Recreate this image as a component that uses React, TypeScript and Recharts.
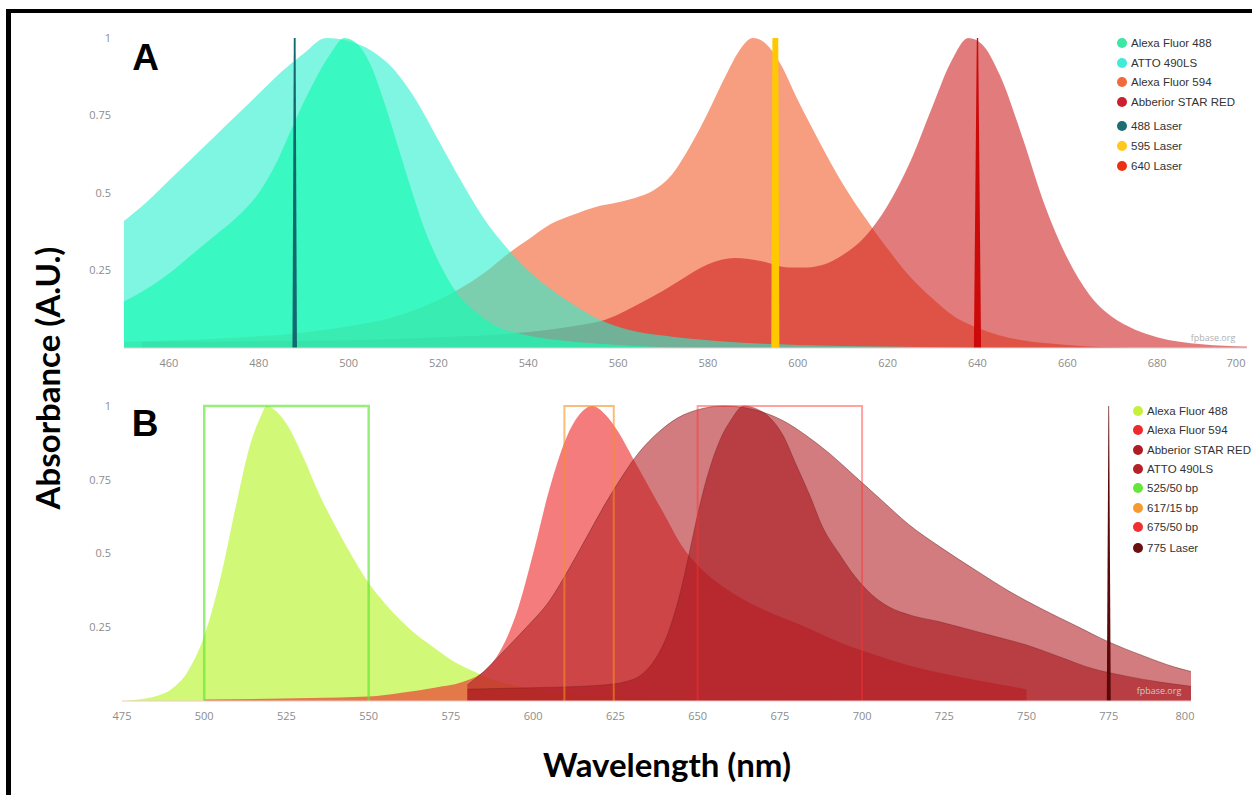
import React from "react";
import { ComposedChart, Area, Line, XAxis, YAxis } from "recharts";

// ---------------- Panel A : absorbance ----------------
const aTicks = [460, 480, 500, 520, 540, 560, 580, 600, 620, 640, 660, 680, 700];
const yTicks = [0.25, 0.5, 0.75, 1];

const aAttoNm = [450, 455, 460, 465, 470, 475, 480, 485, 490, 495, 500, 505, 510, 515, 520, 525, 530, 536, 540, 545, 550, 556, 562, 570, 580, 590, 600, 620, 640];
const aAttoVal = [0.41, 0.47, 0.54, 0.61, 0.68, 0.75, 0.82, 0.89, 0.95, 1.0, 0.99, 0.96, 0.9, 0.8, 0.67, 0.54, 0.42, 0.31, 0.25, 0.19, 0.14, 0.09, 0.06, 0.04, 0.025, 0.015, 0.01, 0.005, 0];

const aA488Nm = [450, 455, 460, 465, 470, 475, 480, 484, 488, 492, 496, 499, 502, 505, 508, 511, 514, 517, 520, 524, 528, 533, 540, 550, 560, 575];
const aA488Val = [0.15, 0.19, 0.24, 0.3, 0.36, 0.42, 0.5, 0.6, 0.73, 0.85, 0.95, 1.0, 0.98, 0.91, 0.79, 0.65, 0.51, 0.38, 0.28, 0.18, 0.12, 0.07, 0.04, 0.02, 0.01, 0];

const aA594Nm = [450, 470, 490, 500, 510, 520, 530, 536, 540, 545, 550, 555, 560, 565, 568, 572, 576, 580, 584, 587, 590, 593, 596, 600, 605, 610, 615, 620, 625, 630, 635, 640, 645, 650, 660, 675];
const aA594Val = [0.02, 0.03, 0.05, 0.07, 0.1, 0.155, 0.24, 0.31, 0.35, 0.4, 0.43, 0.455, 0.47, 0.49, 0.51, 0.56, 0.65, 0.76, 0.88, 0.96, 1.0, 0.98, 0.92, 0.8, 0.66, 0.53, 0.42, 0.32, 0.23, 0.16, 0.1, 0.065, 0.04, 0.025, 0.01, 0];

const aAbbNm = [454, 480, 500, 520, 535, 545, 552, 557, 561, 565, 570, 574, 580, 586, 592, 598, 602, 606, 610, 615, 620, 625, 630, 634, 638, 641, 645, 650, 655, 660, 665, 670, 675, 680, 690, 700];
const aAbbVal = [0.02, 0.022, 0.025, 0.035, 0.045, 0.06, 0.075, 0.09, 0.115, 0.145, 0.185, 0.22, 0.27, 0.29, 0.28, 0.26, 0.26, 0.27, 0.3, 0.36, 0.46, 0.6, 0.78, 0.92, 1.0, 0.98, 0.88, 0.68, 0.46, 0.29, 0.17, 0.1, 0.06, 0.035, 0.012, 0.005];

const aL488Nm = [487.5, 487.8, 488.2, 488.5];
const aL595Nm = [594.1, 594.35, 595.65, 595.9];
const aL640Nm = [639.2, 639.85, 640.15, 640.8];
const laserVal = [0, 1, 1, 0];

// ---------------- Panel B : emission ----------------
const bTicks = [475, 500, 525, 550, 575, 600, 625, 650, 675, 700, 725, 750, 775, 800];

const bA488Nm = [475, 480, 485, 490, 495, 500, 505, 510, 514, 517, 519, 521, 525, 530, 535, 540, 545, 550, 555, 560, 565, 570, 575, 580, 585, 590, 600, 610, 625, 650, 675, 700];
const bA488Val = [0.0, 0.005, 0.015, 0.04, 0.1, 0.22, 0.42, 0.68, 0.87, 0.96, 1.0, 0.99, 0.94, 0.83, 0.7, 0.59, 0.49, 0.4, 0.33, 0.27, 0.22, 0.18, 0.14, 0.11, 0.085, 0.065, 0.04, 0.025, 0.015, 0.007, 0.003, 0];

const bA594Nm = [500, 550, 560, 570, 580, 585, 590, 595, 600, 605, 610, 614, 618, 622, 626, 630, 635, 640, 645, 650, 655, 663, 670, 683, 693, 703, 713, 724, 735, 745, 750];
const bA594Val = [0.005, 0.015, 0.028, 0.045, 0.07, 0.1, 0.17, 0.3, 0.5, 0.72, 0.89, 0.97, 1.0, 0.97, 0.91, 0.83, 0.73, 0.63, 0.53, 0.46, 0.41, 0.35, 0.31, 0.25, 0.2, 0.16, 0.125, 0.095, 0.07, 0.05, 0.04];

const bAttoNm = [580, 585, 592, 598, 605, 611, 617, 622, 627, 632, 638, 644, 651, 658, 668, 676, 683, 690, 698, 706, 714, 724, 735, 745, 755, 765, 775, 785, 795, 800];
const bAttoVal = [0.054, 0.1, 0.18, 0.25, 0.34, 0.45, 0.57, 0.67, 0.76, 0.84, 0.91, 0.96, 0.99, 1.0, 0.985, 0.95, 0.9, 0.84, 0.76, 0.68, 0.6, 0.52, 0.44, 0.37, 0.31, 0.255, 0.2, 0.155, 0.115, 0.1];

const bAbbNm = [580, 600, 615, 622, 628, 633, 637, 641, 645, 648, 651, 654, 657, 660, 664, 668, 672, 676, 680, 684, 688, 693, 698, 703, 708, 715, 723, 730, 740, 750, 760, 770, 780, 790, 800];
const bAbbVal = [0.04, 0.045, 0.05, 0.055, 0.065, 0.09, 0.14, 0.23, 0.38, 0.53, 0.68, 0.8, 0.89, 0.95, 1.0, 0.99, 0.96, 0.9, 0.8, 0.7, 0.59, 0.5, 0.42, 0.36, 0.32, 0.29, 0.27, 0.25, 0.22, 0.19, 0.15, 0.11, 0.085, 0.065, 0.05];

const bBp525Nm = [500, 500, 550, 550];
const bBp617Nm = [609.5, 609.5, 624.5, 624.5];
const bBp675Nm = [650, 650, 700, 700];
const boxVal = [0, 1, 1, 0];
const bL775Nm = [774.4, 774.9, 775.1, 775.6];

// legends
const aLegendNames = ["Alexa Fluor 488", "ATTO 490LS", "Alexa Fluor 594", "Abberior STAR RED", "488 Laser", "595 Laser", "640 Laser"];
const aLegendColors = ["#3ee6a4", "#40ecd8", "#f26a3c", "#cc2030", "#1b6e72", "#ffc81a", "#ee3010"];
const bLegendNames = ["Alexa Fluor 488", "Alexa Fluor 594", "Abberior STAR RED", "ATTO 490LS", "525/50 bp", "617/15 bp", "675/50 bp", "775 Laser"];
const bLegendColors = ["#c6f03c", "#ee2a2a", "#b01c24", "#b52126", "#66e63a", "#f59a30", "#f03030", "#6b1010"];

const mk = (nm: number[], v: number[]) => nm.map((x, i) => ({ x, y: v[i] }));

const TICK_FONT = "'Open Sans', 'Liberation Sans', sans-serif";

const makeXTick = (last: number, shift: number) => (props: any) => {
  const { x, y, payload } = props;
  return (
    <text x={payload.value === last ? x - shift : x} y={y} dy={11} textAnchor="middle" fill="#8c8c8c" fontSize={11} fontFamily={TICK_FONT}>
      {payload.value}
    </text>
  );
};

const yTickStyle = { fill: "#8c8c8c", fontSize: 11, fontFamily: TICK_FONT };

function LegendBlock({ names, colors, left, top, step, gapAfter, gap }: any) {
  return (
    <div style={{ position: "absolute", left, top: 0, pointerEvents: "none" }}>
      {names.map((n: string, i: number) => {
        const cy = top + i * step + (i >= gapAfter ? gap : 0);
        return (
          <div key={n} style={{ position: "absolute", left: 0, top: cy - 8, height: 16, display: "flex", alignItems: "center", whiteSpace: "nowrap" }}>
            <span style={{ display: "inline-block", width: 10, height: 10, borderRadius: 5, background: colors[i], marginRight: 4 }} />
            <span style={{ fontFamily: "'Liberation Sans', Arial, sans-serif", fontSize: 11.5, color: "#333" }}>{n}</span>
          </div>
        );
      })}
    </div>
  );
}

export default function App() {
  const area = (key: string, data: any[], fill: string, op: number, type: any = "monotone", stroke = "none", sop = 0) => (
    <Area key={key} data={data} dataKey="y" type={type} fill={fill} fillOpacity={op} stroke={stroke} strokeOpacity={sop} strokeWidth={1} isAnimationActive={false} dot={false} activeDot={false} />
  );
  const box = (key: string, data: any[], color: string, op: number, w: number) => (
    <Line key={key} data={data} dataKey="y" type="linear" stroke={color} strokeOpacity={op} strokeWidth={w} isAnimationActive={false} dot={false} activeDot={false} />
  );

  return (
    <div style={{ position: "absolute", left: 0, top: 0, width: 1252, height: 795, background: "#fff", overflow: "hidden" }}>
      <div style={{ position: "absolute", left: 0, top: 0 }}>
        <ComposedChart width={1252} height={380} margin={{ top: 38, right: 5, bottom: 2, left: 64 }}>
          <XAxis type="number" dataKey="x" domain={[450, 700]} ticks={aTicks} interval={0} allowDataOverflow tickLine={false} axisLine={{ stroke: "#d6d6d6" }} tick={makeXTick(700, 11)} height={30} />
          <YAxis type="number" domain={[0, 1]} ticks={yTicks} interval={0} width={60} tickLine={false} axisLine={false} tick={yTickStyle} tickMargin={7} />
          {area("a594", mk(aA594Nm, aA594Val), "#f56a3c", 0.65)}
          {area("aabb", mk(aAbbNm, aAbbVal), "#cd1e1e", 0.58)}
          {area("aatto", mk(aAttoNm, aAttoVal), "#28f0cd", 0.6)}
          {area("a488", mk(aA488Nm, aA488Val), "#1efab4", 0.7)}
          {area("l488", mk(aL488Nm, laserVal), "#12686f", 1, "linear")}
          {area("l595", mk(aL595Nm, laserVal), "#ffc800", 1, "linear")}
          {area("l640", mk(aL640Nm, laserVal), "#cc0a0a", 1, "linear")}
        </ComposedChart>
      </div>
      <div style={{ position: "absolute", left: 0, top: 370 }}>
        <ComposedChart width={1252} height={380} margin={{ top: 36, right: 61, bottom: 19, left: 62 }}>
          <XAxis type="number" dataKey="x" domain={[475, 800]} ticks={bTicks} interval={0} allowDataOverflow tickLine={false} axisLine={{ stroke: "#f0c8c8" }} tick={makeXTick(800, 6)} height={30} />
          <YAxis type="number" domain={[0, 1]} ticks={yTicks} interval={0} width={60} tickLine={false} axisLine={false} tick={yTickStyle} tickMargin={5} />
          {area("b488", mk(bA488Nm, bA488Val), "#bef53c", 0.7)}
          {area("b594", mk(bA594Nm, bA594Val), "#ee2b2b", 0.62)}
          {area("batto", mk(bAttoNm, bAttoVal), "#b41e23", 0.58, "monotone", "#6a2424", 0.5)}
          {area("babb", mk(bAbbNm, bAbbVal), "#aa191e", 0.62, "monotone", "#6a1c1c", 0.35)}
          {box("bp525", mk(bBp525Nm, boxVal), "#5ee830", 0.65, 2.5)}
          {box("bp617", mk(bBp617Nm, boxVal), "#f59020", 0.6, 2)}
          {box("bp675", mk(bBp675Nm, boxVal), "#ff3030", 0.45, 2)}
          {area("l775", mk(bL775Nm, laserVal), "#5a0808", 1, "linear")}
        </ComposedChart>
      </div>

      <LegendBlock names={aLegendNames} colors={aLegendColors} left={1117} top={43} step={19.6} gapAfter={4} gap={5} />
      <LegendBlock names={bLegendNames} colors={bLegendColors} left={1133} top={411} step={19.3} gapAfter={7} gap={2} />

      <svg width={1252} height={795} style={{ position: "absolute", left: 0, top: 0, pointerEvents: "none" }}>
        <rect x={6} y={9} width={1246} height={4} fill="#000" />
        <rect x={6} y={9} width={5} height={786} fill="#000" />
        <text x={145.5} y={70} textAnchor="middle" fontSize={37} fontWeight="bold" fontFamily="'Liberation Sans', Arial, sans-serif" fill="#000">A</text>
        <text x={145} y={436} textAnchor="middle" fontSize={37} fontWeight="bold" fontFamily="'Liberation Sans', Arial, sans-serif" fill="#000">B</text>
        <text x={1213} y={341} textAnchor="middle" fontSize={9} fontFamily={TICK_FONT} fill="#b0b0b0">fpbase.org</text>
        <text x={1159} y={694} textAnchor="middle" fontSize={9} fontFamily={TICK_FONT} fill="#c8c8c8">fpbase.org</text>
        <text transform="translate(47,378) rotate(-90)" textAnchor="middle" dominantBaseline="central" fontSize={33} fontWeight="bold" fontFamily="Lato, 'Liberation Sans', sans-serif" fill="#000">Absorbance (A.U.)</text>
        <text x={667} y={777} textAnchor="middle" fontSize={33} fontWeight="bold" fontFamily="Lato, 'Liberation Sans', sans-serif" fill="#000">Wavelength (nm)</text>
      </svg>
    </div>
  );
}
